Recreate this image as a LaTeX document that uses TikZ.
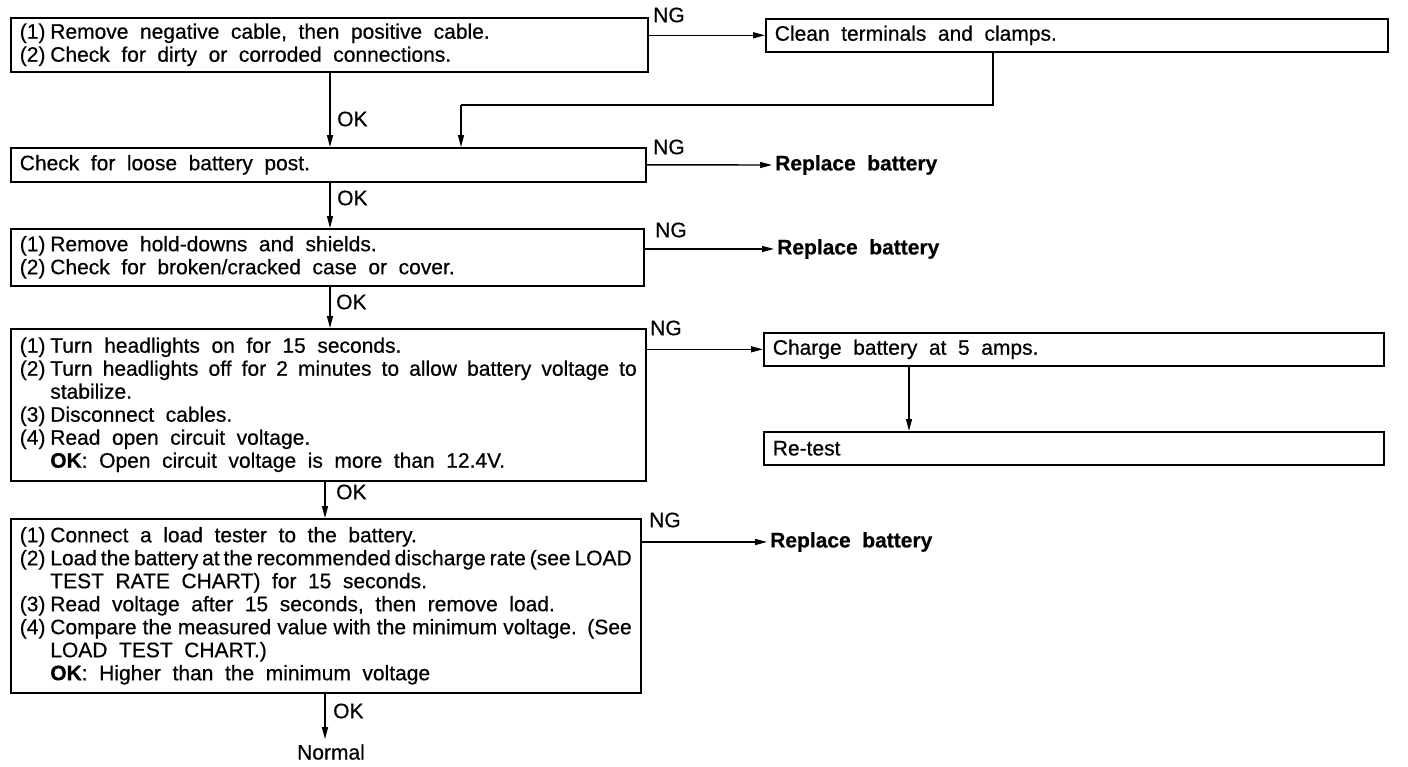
\documentclass[tikz,border=0pt]{standalone}
\usepackage{fontspec}
\setmainfont{Liberation Sans}[FakeBold=0.5]
\usetikzlibrary{arrows.meta}
\newcommand\ws{\spaceskip=0.55em plus 0.2em minus 0.1em\relax}
\newcommand\itm[2]{\makebox[30.5pt][l]{#1}#2}
\newcommand\hang{\hspace*{30.5pt}}
\newcommand\jst[1]{\leavevmode\hbox to \linewidth{\spaceskip=0.1em plus 1fil\relax #1}}
\newcommand\txtfont{\fontsize{21}{23}\selectfont\ws}
\begin{document}
\begin{tikzpicture}[x=1pt,y=-1pt,
  font=\txtfont,
  box/.style={draw, line width=1.6pt, anchor=north west, align=left,
    inner xsep=9pt, inner ysep=0pt},
  arr/.style={line width=1.4pt, -{Triangle[length=12pt,width=6pt]}},
  ln/.style={line width=1.4pt},
  lbl/.style={inner sep=0pt},
  boldlbl/.style={inner sep=0pt, font=\txtfont\bfseries}]
\path[fill=white, use as bounding box] (0,0) rectangle (1408,766);

% main boxes
\node[box, text width=619pt, minimum height=54pt] (b1) at (10,17)
  {\ws\itm{(1)}{Remove negative cable, then positive cable.}\\
   \itm{(2)}{Check for dirty or corroded connections.}};
\node[box, text width=617pt, minimum height=34pt] (b2) at (10,147)
  {\ws Check for loose battery post.};
\node[box, text width=615pt, minimum height=57pt] (b3) at (10,228)
  {\ws\itm{(1)}{Remove hold-downs and shields.}\\
   \itm{(2)}{Check for broken/cracked case or cover.}};
\node[box, text width=617pt, minimum height=152pt] (b4) at (10,328)
  {\ws\itm{(1)}{Turn headlights on for 15 seconds.}\\
   \jst{\itm{(2)}{Turn headlights off for 2 minutes to allow battery voltage to}}\\
   \hang stabilize.\\
   \itm{(3)}{Disconnect cables.}\\
   \itm{(4)}{Read open circuit voltage.}\\
   \hang\textbf{OK}: Open circuit voltage is more than 12.4V.};
\node[box, text width=612pt, minimum height=174pt] (b5) at (10,518)
  {\ws\itm{(1)}{Connect a load tester to the battery.}\\
   \jst{\itm{(2)}{Load the battery at the recommended discharge rate (see LOAD}}\\
   \hang TEST RATE CHART) for 15 seconds.\\
   \itm{(3)}{Read voltage after 15 seconds, then remove load.}\\
   \jst{\itm{(4)}{Compare the measured value with the minimum voltage. (See}}\\
   \hang LOAD TEST CHART.)\\
   \hang\textbf{OK}: Higher than the minimum voltage};

% right side boxes
\node[box, text width=604pt, minimum height=33pt] (cl) at (765,18)
  {\ws Clean terminals and clamps.};
\node[box, text width=602pt, minimum height=33pt] (ch) at (763,332)
  {\ws Charge battery at 5 amps.};
\node[box, text width=602pt, minimum height=33pt] (rt) at (763,431)
  {Re-test};

% result nodes
\node[boldlbl, anchor=west] (r1) at (775,165) {Replace battery};
\node[boldlbl, anchor=west] (r2) at (777,249) {Replace battery};
\node[boldlbl, anchor=west] (r3) at (770,542) {Replace battery};
\node[inner xsep=0pt, inner ysep=5pt] (nm) at (331,752) {Normal};

% helper coordinates
\coordinate (k1) at (330,0);
\coordinate (k4) at (325,0);
\coordinate (t1) at (993,105);
\coordinate (t2) at (461,105);
\coordinate (kc) at (909,0);

% OK arrows
\draw[arr] (b1.south -| k1) -- (b2.north -| k1);
\draw[arr] (b2.south -| k1) -- (b3.north -| k1);
\draw[arr] (b3.south -| k1) -- (b4.north -| k1);
\draw[arr] (b4.south -| k4) -- (b5.north -| k4);
\draw[arr] (b5.south -| k4) -- (nm.north -| k4);
\node[lbl, anchor=west] (ok1) at (337,119) {OK};
\node[lbl, anchor=west] (ok2) at (337,198) {OK};
\node[lbl, anchor=west] (ok3) at (336,302) {OK};
\node[lbl, anchor=west] (ok4) at (336,492) {OK};
\node[lbl, anchor=west] (ok5) at (333,711) {OK};

% NG arrows
\draw[arr] (cl.west -| b1.east) -- (cl.west);
\draw[arr] (b2.east) -- ([xshift=-3pt]r1.west);
\draw[arr] (r2.west -| b3.east) -- ([xshift=-3pt]r2.west);
\draw[arr] (ch.west -| b4.east) -- (ch.west);
\draw[arr] (r3.west -| b5.east) -- ([xshift=-3pt]r3.west);
\node[lbl] (ng1) at (669,15) {NG};
\node[lbl] (ng2) at (669,147) {NG};
\node[lbl] (ng3) at (671,230) {NG};
\node[lbl] (ng4) at (666,328) {NG};
\node[lbl] (ng5) at (665,520) {NG};

% loop back from clean box
\draw[ln] (cl.south -| t1) -- (t1) -- (t2);
\draw[arr] (t2) -- (b2.north -| t2);

% charge -> retest
\draw[arr] (ch.south -| kc) -- (rt.north -| kc);
\end{tikzpicture}
\end{document}
